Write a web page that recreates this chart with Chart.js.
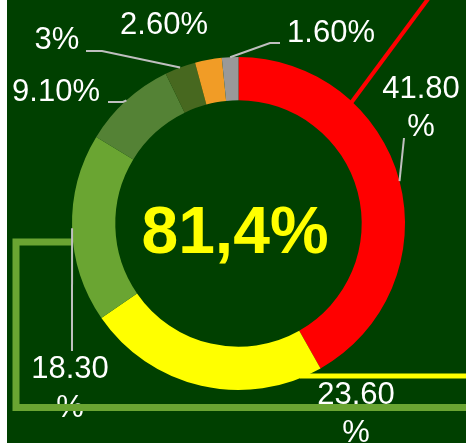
<!DOCTYPE html>
<html>
<head>
<meta charset="utf-8">
<script src="https://cdn.jsdelivr.net/npm/chart.js@4/dist/chart.umd.min.js"></script>
<style>
  html, body { margin: 0; padding: 0; background: #ffffff; }
  canvas { display: block; }
</style>
</head>
<body>
<canvas id="chart" width="466" height="443"></canvas>
<script>
// andelar i procent, medurs från kl 12
const categories = ["A", "B", "C", "D", "E", "F", "G"];
const values = [41.8, 23.6, 18.3, 9.1, 3, 2.6, 1.6];
const centerText = "81,4%";

const colors = ["#ff0000", "#ffff00", "#6aa532", "#548235", "#47681f", "#f19c26", "#999999"];

// etiketternas placering (text-mitt, baslinjer) och hävarmarnas knäpunkter
const labelLayout = [
  { x: 421, lines: [98, 136], leader: [[404, 138]] },
  { x: 356, lines: [404, 442], leader: null },
  { x: 70, lines: [378, 417], leader: [[72, 351]] },
  { x: 56, lines: [101], leader: [[123, 102], [108, 102]] },
  { x: 57, lines: [49], leader: [[102, 51], [86, 51]] },
  { x: 164, lines: [34], leader: null },
  { x: 331, lines: [42], leader: [[270, 43], [280, 43]] }
];

function fmt(v) {
  return (Math.round(v) === v ? String(v) : v.toFixed(2)) + "%";
}

/**
 * ritar bakgrund, etiketter och dekorlinjer
 */
const decor = {
  id: "decor",
  beforeDraw(chart) {
    const ctx = chart.ctx;
    ctx.save();
    ctx.fillStyle = "#ffffff";
    ctx.fillRect(0, 0, chart.width, chart.height);
    ctx.fillStyle = "#004000";
    ctx.fillRect(7, 0, chart.width - 7, chart.height);
    ctx.restore();
  },
  afterDatasetsDraw(chart) {
    const ctx = chart.ctx;
    const arcs = chart.getDatasetMeta(0).data;
    ctx.save();

    // etiketter
    ctx.fillStyle = "#ffffff";
    ctx.font = "31px 'Liberation Sans', Arial, sans-serif";
    ctx.textAlign = "center";
    ctx.textBaseline = "alphabetic";
    values.forEach((v, i) => {
      const l = labelLayout[i];
      const txt = fmt(v);
      if (l.lines.length === 2) {
        ctx.fillText(txt.slice(0, -1), l.x, l.lines[0]);
        ctx.fillText("%", l.x, l.lines[1]);
      } else {
        ctx.fillText(txt, l.x, l.lines[0]);
      }
    });

    // gul linje
    ctx.strokeStyle = "#ffff00";
    ctx.lineWidth = 5;
    ctx.beginPath();
    ctx.moveTo(300, 376);
    ctx.lineTo(466, 376);
    ctx.stroke();

    // röd linje
    ctx.strokeStyle = "#ff0000";
    ctx.lineWidth = 4;
    ctx.beginPath();
    ctx.moveTo(428, -1);
    ctx.lineTo(351, 103);
    ctx.stroke();

    // grön ram
    ctx.strokeStyle = "#6aa532";
    ctx.lineWidth = 7;
    ctx.beginPath();
    ctx.moveTo(72, 242);
    ctx.lineTo(16, 242);
    ctx.lineTo(16, 407.5);
    ctx.lineTo(470, 407.5);
    ctx.stroke();

    // hävarmar från bågens mitt
    ctx.strokeStyle = "#bfbfbf";
    ctx.lineWidth = 2;
    arcs.forEach((arc, i) => {
      const l = labelLayout[i];
      if (!l.leader) return;
      const p = arc.getProps(["x", "y", "startAngle", "endAngle", "outerRadius"], true);
      const mid = (p.startAngle + p.endAngle) / 2;
      ctx.beginPath();
      ctx.moveTo(p.x + Math.cos(mid) * p.outerRadius, p.y + Math.sin(mid) * p.outerRadius);
      l.leader.forEach(pt => ctx.lineTo(pt[0], pt[1]));
      ctx.stroke();
    });

    // mittentext
    ctx.fillStyle = "#ffff00";
    ctx.font = "bold 66px 'Liberation Sans', Arial, sans-serif";
    ctx.fillText(centerText, 235, 253);
    ctx.restore();
  }
};

new Chart(document.querySelector("#chart"), {
  type: "doughnut",
  data: {
    labels: categories,
    datasets: [{
      data: values,
      backgroundColor: colors,
      borderWidth: 0
    }]
  },
  options: {
    responsive: false,
    animation: false,
    cutout: "74%",
    layout: { padding: { left: 72, right: 61, top: 57, bottom: 53 } },
    plugins: {
      legend: { display: false },
      tooltip: { enabled: false }
    }
  },
  plugins: [decor]
});
</script>
</body>
</html>
